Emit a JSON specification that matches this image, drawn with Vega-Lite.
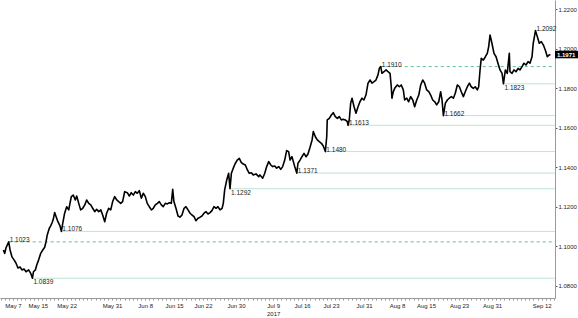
{
  "$schema": "https://vega.github.io/schema/vega-lite/v6.json",
  "width": 555,
  "height": 298,
  "autosize": {"type": "none"},
  "padding": {"left": 0, "top": 0, "right": 23, "bottom": 20},
  "background": "white",
  "view": {"stroke": null},
  "config": {"font": "Liberation Sans"},
  "datasets": {
    "fx": [
      {"t":"2017-05-04T16:00Z","v":1.0982},{"t":"2017-05-05T00:00Z","v":1.0965},{"t":"2017-05-05T07:00Z","v":1.0992},{"t":"2017-05-05T23:00Z","v":1.1023},{"t":"2017-05-06T07:00Z","v":1.0982},{"t":"2017-05-06T18:00Z","v":1.0947},{"t":"2017-05-07T06:00Z","v":1.0932},{"t":"2017-05-07T17:00Z","v":1.0916},{"t":"2017-05-08T05:00Z","v":1.0891},{"t":"2017-05-08T17:00Z","v":1.0896},
      {"t":"2017-05-09T04:00Z","v":1.0881},{"t":"2017-05-09T16:00Z","v":1.0886},{"t":"2017-05-10T04:00Z","v":1.0872},{"t":"2017-05-10T19:00Z","v":1.0881},{"t":"2017-05-11T07:00Z","v":1.0864},{"t":"2017-05-11T17:00Z","v":1.0839},{"t":"2017-05-11T23:00Z","v":1.0872},{"t":"2017-05-12T10:00Z","v":1.0881},{"t":"2017-05-12T18:00Z","v":1.0906},{"t":"2017-05-13T05:00Z","v":1.0932},
      {"t":"2017-05-13T17:00Z","v":1.0965},{"t":"2017-05-14T05:00Z","v":1.0982},{"t":"2017-05-14T16:00Z","v":1.0996},{"t":"2017-05-15T00:00Z","v":1.1024},{"t":"2017-05-15T07:00Z","v":1.1058},{"t":"2017-05-15T19:00Z","v":1.1092},{"t":"2017-05-16T03:00Z","v":1.1104},{"t":"2017-05-16T11:00Z","v":1.1120},{"t":"2017-05-16T18:00Z","v":1.1137},{"t":"2017-05-17T02:00Z","v":1.1171},
      {"t":"2017-05-17T10:00Z","v":1.1151},{"t":"2017-05-17T21:00Z","v":1.1125},{"t":"2017-05-18T09:00Z","v":1.1104},{"t":"2017-05-18T17:00Z","v":1.1076},{"t":"2017-05-19T01:00Z","v":1.1117},{"t":"2017-05-19T12:00Z","v":1.1168},{"t":"2017-05-20T00:00Z","v":1.1201},{"t":"2017-05-20T12:00Z","v":1.1185},{"t":"2017-05-20T19:00Z","v":1.1218},{"t":"2017-05-21T03:00Z","v":1.1252},
      {"t":"2017-05-21T14:00Z","v":1.1260},{"t":"2017-05-22T02:00Z","v":1.1235},{"t":"2017-05-22T10:00Z","v":1.1255},{"t":"2017-05-22T22:00Z","v":1.1218},{"t":"2017-05-23T09:00Z","v":1.1185},{"t":"2017-05-23T21:00Z","v":1.1193},{"t":"2017-05-24T09:00Z","v":1.1210},{"t":"2017-05-24T20:00Z","v":1.1235},{"t":"2017-05-25T08:00Z","v":1.1218},{"t":"2017-05-25T20:00Z","v":1.1210},
      {"t":"2017-05-26T07:00Z","v":1.1193},{"t":"2017-05-26T19:00Z","v":1.1176},{"t":"2017-05-27T06:00Z","v":1.1188},{"t":"2017-05-27T18:00Z","v":1.1176},{"t":"2017-05-28T06:00Z","v":1.1185},{"t":"2017-05-28T17:00Z","v":1.1159},{"t":"2017-05-29T05:00Z","v":1.1125},{"t":"2017-05-29T16:00Z","v":1.1168},{"t":"2017-05-30T04:00Z","v":1.1193},{"t":"2017-05-30T16:00Z","v":1.1185},
      {"t":"2017-05-31T03:00Z","v":1.1227},{"t":"2017-05-31T15:00Z","v":1.1252},{"t":"2017-06-01T03:00Z","v":1.1235},{"t":"2017-06-01T14:00Z","v":1.1227},{"t":"2017-06-02T02:00Z","v":1.1218},{"t":"2017-06-02T13:00Z","v":1.1227},{"t":"2017-06-03T01:00Z","v":1.1277},{"t":"2017-06-03T16:00Z","v":1.1272},{"t":"2017-06-04T04:00Z","v":1.1255},{"t":"2017-06-04T15:00Z","v":1.1272},
      {"t":"2017-06-05T03:00Z","v":1.1260},{"t":"2017-06-05T15:00Z","v":1.1277},{"t":"2017-06-06T02:00Z","v":1.1269},{"t":"2017-06-06T14:00Z","v":1.1282},{"t":"2017-06-07T02:00Z","v":1.1244},{"t":"2017-06-07T13:00Z","v":1.1269},{"t":"2017-06-08T01:00Z","v":1.1252},{"t":"2017-06-08T12:00Z","v":1.1218},{"t":"2017-06-09T00:00Z","v":1.1201},{"t":"2017-06-09T12:00Z","v":1.1185},
      {"t":"2017-06-09T23:00Z","v":1.1193},{"t":"2017-06-10T11:00Z","v":1.1210},{"t":"2017-06-10T23:00Z","v":1.1218},{"t":"2017-06-11T10:00Z","v":1.1227},{"t":"2017-06-11T22:00Z","v":1.1210},{"t":"2017-06-12T09:00Z","v":1.1201},{"t":"2017-06-12T21:00Z","v":1.1218},{"t":"2017-06-13T09:00Z","v":1.1215},{"t":"2017-06-13T20:00Z","v":1.1221},{"t":"2017-06-14T08:00Z","v":1.1218},
      {"t":"2017-06-14T16:00Z","v":1.1289},{"t":"2017-06-14T23:00Z","v":1.1227},{"t":"2017-06-15T11:00Z","v":1.1193},{"t":"2017-06-15T23:00Z","v":1.1154},{"t":"2017-06-16T10:00Z","v":1.1148},{"t":"2017-06-16T22:00Z","v":1.1159},{"t":"2017-06-17T10:00Z","v":1.1193},{"t":"2017-06-17T21:00Z","v":1.1201},{"t":"2017-06-18T09:00Z","v":1.1185},{"t":"2017-06-18T21:00Z","v":1.1168},
      {"t":"2017-06-19T08:00Z","v":1.1159},{"t":"2017-06-19T20:00Z","v":1.1151},{"t":"2017-06-20T07:00Z","v":1.1130},{"t":"2017-06-20T19:00Z","v":1.1143},{"t":"2017-06-21T07:00Z","v":1.1148},{"t":"2017-06-21T18:00Z","v":1.1154},{"t":"2017-06-22T06:00Z","v":1.1168},{"t":"2017-06-22T18:00Z","v":1.1176},{"t":"2017-06-23T05:00Z","v":1.1164},{"t":"2017-06-23T17:00Z","v":1.1171},
      {"t":"2017-06-24T04:00Z","v":1.1181},{"t":"2017-06-24T16:00Z","v":1.1201},{"t":"2017-06-25T04:00Z","v":1.1193},{"t":"2017-06-25T15:00Z","v":1.1201},{"t":"2017-06-26T03:00Z","v":1.1185},{"t":"2017-06-26T15:00Z","v":1.1193},{"t":"2017-06-26T22:00Z","v":1.1218},{"t":"2017-06-27T06:00Z","v":1.1286},{"t":"2017-06-27T18:00Z","v":1.1336},{"t":"2017-06-28T05:00Z","v":1.1370},
      {"t":"2017-06-28T13:00Z","v":1.1292},{"t":"2017-06-28T21:00Z","v":1.1370},{"t":"2017-06-29T08:00Z","v":1.1396},{"t":"2017-06-29T20:00Z","v":1.1421},{"t":"2017-06-30T07:00Z","v":1.1437},{"t":"2017-06-30T19:00Z","v":1.1446},{"t":"2017-07-01T07:00Z","v":1.1424},{"t":"2017-07-01T18:00Z","v":1.1417},{"t":"2017-07-02T06:00Z","v":1.1412},{"t":"2017-07-02T18:00Z","v":1.1387},
      {"t":"2017-07-03T05:00Z","v":1.1370},{"t":"2017-07-03T17:00Z","v":1.1373},{"t":"2017-07-04T04:00Z","v":1.1362},{"t":"2017-07-04T20:00Z","v":1.1367},{"t":"2017-07-05T12:00Z","v":1.1353},{"t":"2017-07-05T19:00Z","v":1.1362},{"t":"2017-07-06T11:00Z","v":1.1345},{"t":"2017-07-06T23:00Z","v":1.1370},{"t":"2017-07-07T10:00Z","v":1.1404},{"t":"2017-07-07T22:00Z","v":1.1429},
      {"t":"2017-07-08T10:00Z","v":1.1412},{"t":"2017-07-08T21:00Z","v":1.1404},{"t":"2017-07-09T09:00Z","v":1.1407},{"t":"2017-07-09T20:00Z","v":1.1396},{"t":"2017-07-10T08:00Z","v":1.1404},{"t":"2017-07-10T20:00Z","v":1.1390},{"t":"2017-07-11T07:00Z","v":1.1404},{"t":"2017-07-11T19:00Z","v":1.1437},{"t":"2017-07-12T06:00Z","v":1.1485},{"t":"2017-07-12T18:00Z","v":1.1479},
      {"t":"2017-07-13T02:00Z","v":1.1437},{"t":"2017-07-13T13:00Z","v":1.1454},{"t":"2017-07-13T21:00Z","v":1.1429},{"t":"2017-07-14T05:00Z","v":1.1404},{"t":"2017-07-14T17:00Z","v":1.1371},{"t":"2017-07-15T00:00Z","v":1.1421},{"t":"2017-07-15T12:00Z","v":1.1437},{"t":"2017-07-15T23:00Z","v":1.1454},{"t":"2017-07-16T11:00Z","v":1.1471},{"t":"2017-07-16T23:00Z","v":1.1454},
      {"t":"2017-07-17T10:00Z","v":1.1468},{"t":"2017-07-17T22:00Z","v":1.1502},{"t":"2017-07-18T10:00Z","v":1.1539},{"t":"2017-07-18T17:00Z","v":1.1581},{"t":"2017-07-19T05:00Z","v":1.1555},{"t":"2017-07-19T16:00Z","v":1.1539},{"t":"2017-07-20T04:00Z","v":1.1530},{"t":"2017-07-20T16:00Z","v":1.1522},{"t":"2017-07-21T03:00Z","v":1.1508},{"t":"2017-07-21T15:00Z","v":1.1480},
      {"t":"2017-07-21T23:00Z","v":1.1555},{"t":"2017-07-22T02:00Z","v":1.1640},{"t":"2017-07-22T14:00Z","v":1.1648},{"t":"2017-07-23T02:00Z","v":1.1665},{"t":"2017-07-23T13:00Z","v":1.1677},{"t":"2017-07-24T01:00Z","v":1.1657},{"t":"2017-07-24T13:00Z","v":1.1648},{"t":"2017-07-25T00:00Z","v":1.1657},{"t":"2017-07-25T12:00Z","v":1.1640},{"t":"2017-07-25T23:00Z","v":1.1643},
      {"t":"2017-07-26T11:00Z","v":1.1640},{"t":"2017-07-26T23:00Z","v":1.1631},{"t":"2017-07-27T03:00Z","v":1.1613},{"t":"2017-07-27T10:00Z","v":1.1640},{"t":"2017-07-27T18:00Z","v":1.1724},{"t":"2017-07-28T02:00Z","v":1.1750},{"t":"2017-07-28T14:00Z","v":1.1707},{"t":"2017-07-29T01:00Z","v":1.1674},{"t":"2017-07-29T13:00Z","v":1.1707},{"t":"2017-07-30T00:00Z","v":1.1732},
      {"t":"2017-07-30T12:00Z","v":1.1750},{"t":"2017-07-30T23:00Z","v":1.1741},{"t":"2017-07-31T11:00Z","v":1.1766},{"t":"2017-07-31T23:00Z","v":1.1826},{"t":"2017-08-01T11:00Z","v":1.1842},{"t":"2017-08-01T22:00Z","v":1.1826},{"t":"2017-08-02T10:00Z","v":1.1834},{"t":"2017-08-02T21:00Z","v":1.1842},{"t":"2017-08-03T09:00Z","v":1.1868},{"t":"2017-08-03T17:00Z","v":1.1902},
      {"t":"2017-08-04T01:00Z","v":1.1910},{"t":"2017-08-04T08:00Z","v":1.1876},{"t":"2017-08-04T20:00Z","v":1.1884},{"t":"2017-08-05T08:00Z","v":1.1893},{"t":"2017-08-05T19:00Z","v":1.1884},{"t":"2017-08-06T07:00Z","v":1.1876},{"t":"2017-08-06T14:00Z","v":1.1808},{"t":"2017-08-06T18:00Z","v":1.1750},{"t":"2017-08-07T02:00Z","v":1.1783},{"t":"2017-08-07T10:00Z","v":1.1800},
      {"t":"2017-08-08T01:00Z","v":1.1817},{"t":"2017-08-08T13:00Z","v":1.1808},{"t":"2017-08-09T00:00Z","v":1.1817},{"t":"2017-08-09T12:00Z","v":1.1792},{"t":"2017-08-09T20:00Z","v":1.1741},{"t":"2017-08-10T08:00Z","v":1.1750},{"t":"2017-08-10T19:00Z","v":1.1732},{"t":"2017-08-11T07:00Z","v":1.1758},{"t":"2017-08-11T19:00Z","v":1.1741},{"t":"2017-08-12T06:00Z","v":1.1707},
      {"t":"2017-08-12T18:00Z","v":1.1741},{"t":"2017-08-13T06:00Z","v":1.1766},{"t":"2017-08-13T17:00Z","v":1.1817},{"t":"2017-08-14T05:00Z","v":1.1842},{"t":"2017-08-14T16:00Z","v":1.1826},{"t":"2017-08-15T04:00Z","v":1.1792},{"t":"2017-08-15T16:00Z","v":1.1783},{"t":"2017-08-16T03:00Z","v":1.1766},{"t":"2017-08-16T15:00Z","v":1.1741},{"t":"2017-08-17T03:00Z","v":1.1732},
      {"t":"2017-08-17T14:00Z","v":1.1716},{"t":"2017-08-18T02:00Z","v":1.1732},{"t":"2017-08-18T13:00Z","v":1.1783},{"t":"2017-08-18T21:00Z","v":1.1741},{"t":"2017-08-19T05:00Z","v":1.1662},{"t":"2017-08-19T16:00Z","v":1.1724},{"t":"2017-08-20T04:00Z","v":1.1741},{"t":"2017-08-20T15:00Z","v":1.1750},{"t":"2017-08-21T03:00Z","v":1.1758},{"t":"2017-08-21T15:00Z","v":1.1750},
      {"t":"2017-08-22T02:00Z","v":1.1775},{"t":"2017-08-22T14:00Z","v":1.1817},{"t":"2017-08-23T02:00Z","v":1.1808},{"t":"2017-08-23T13:00Z","v":1.1783},{"t":"2017-08-24T01:00Z","v":1.1758},{"t":"2017-08-24T12:00Z","v":1.1783},{"t":"2017-08-25T00:00Z","v":1.1808},{"t":"2017-08-25T12:00Z","v":1.1826},{"t":"2017-08-25T23:00Z","v":1.1808},{"t":"2017-08-26T11:00Z","v":1.1800},
      {"t":"2017-08-26T22:00Z","v":1.1808},{"t":"2017-08-27T10:00Z","v":1.1792},{"t":"2017-08-27T18:00Z","v":1.1808},{"t":"2017-08-28T02:00Z","v":1.1893},{"t":"2017-08-28T09:00Z","v":1.1952},{"t":"2017-08-28T21:00Z","v":1.1943},{"t":"2017-08-29T09:00Z","v":1.1960},{"t":"2017-08-29T20:00Z","v":1.1977},{"t":"2017-08-30T04:00Z","v":1.2010},{"t":"2017-08-30T12:00Z","v":1.2070},
      {"t":"2017-08-30T23:00Z","v":1.2028},{"t":"2017-08-31T11:00Z","v":1.1977},{"t":"2017-08-31T23:00Z","v":1.1960},{"t":"2017-09-01T10:00Z","v":1.1927},{"t":"2017-09-01T22:00Z","v":1.1893},{"t":"2017-09-02T10:00Z","v":1.1876},{"t":"2017-09-02T18:00Z","v":1.1823},{"t":"2017-09-03T05:00Z","v":1.1893},{"t":"2017-09-03T16:00Z","v":1.1876},{"t":"2017-09-04T04:00Z","v":1.1977},
      {"t":"2017-09-04T08:00Z","v":1.1884},{"t":"2017-09-04T20:00Z","v":1.1876},{"t":"2017-09-05T07:00Z","v":1.1893},{"t":"2017-09-05T19:00Z","v":1.1884},{"t":"2017-09-06T07:00Z","v":1.1901},{"t":"2017-09-06T18:00Z","v":1.1893},{"t":"2017-09-07T06:00Z","v":1.1910},{"t":"2017-09-07T17:00Z","v":1.1927},{"t":"2017-09-08T05:00Z","v":1.1918},{"t":"2017-09-08T17:00Z","v":1.1935},
      {"t":"2017-09-09T04:00Z","v":1.1927},{"t":"2017-09-09T16:00Z","v":1.1960},{"t":"2017-09-09T23:00Z","v":1.2028},{"t":"2017-09-10T12:00Z","v":1.2092},{"t":"2017-09-10T23:00Z","v":1.2061},{"t":"2017-09-11T10:00Z","v":1.2028},{"t":"2017-09-11T22:00Z","v":1.2036},{"t":"2017-09-12T10:00Z","v":1.2019},{"t":"2017-09-12T21:00Z","v":1.1994},{"t":"2017-09-13T09:00Z","v":1.1960},
      {"t":"2017-09-13T20:00Z","v":1.1969},{"t":"2017-09-14T03:00Z","v":1.1971}
    ],
    "levels": [
      {"start":"2017-05-11T17:00Z","level":1.0839},
      {"start":"2017-05-05T23:00Z","level":1.1023},
      {"start":"2017-05-18T17:00Z","level":1.1076},
      {"start":"2017-06-28T13:00Z","level":1.1292},
      {"start":"2017-07-14T17:00Z","level":1.1371},
      {"start":"2017-07-21T15:00Z","level":1.1480},
      {"start":"2017-07-27T03:00Z","level":1.1613},
      {"start":"2017-08-19T05:00Z","level":1.1662},
      {"start":"2017-09-02T18:00Z","level":1.1823},
      {"start":"2017-08-04T01:00Z","level":1.1910},
      {"start":"2017-09-10T12:00Z","level":1.2092}
    ],
    "last": [{"v":1.1971}]
  },
  "layer": [
    {
      "data": {"name": "fx"},
      "mark": {"type": "line", "color": "#000000", "strokeWidth": 1.6, "strokeJoin": "round", "opacity": 0},
      "encoding": {
        "x": {
          "field": "t", "type": "temporal",
          "scale": {"type": "utc", "domain": [{"year":2017,"month":5,"date":3,"hours":20,"minutes":27,"utc":true},{"year":2017,"month":9,"date":15,"hours":5,"minutes":31,"utc":true}]},
          "axis": {
            "orient": "bottom", "title": null, "grid": false,
            "domainColor": "#9a9a9a", "tickColor": "#9a9a9a", "tickSize": 2,
            "labelFont": "Liberation Sans", "labelFontSize": 6, "labelColor": "#222222",
            "labelPadding": 2, "labelOverlap": false, "labelFlush": false, "labelLineHeight": 8,
            "tickCount": {"interval": "day", "step": 1},
            "labelExpr": "indexof(['05-07','05-13','05-20','05-31','06-08','06-15','06-22','06-30','07-09','07-16','07-23','07-31','08-08','08-15','08-23','08-31','09-12'], utcFormat(datum.value, '%m-%d')) >= 0 ? ['May 7','May 15','May 22','May 31','Jun 8','Jun 15','Jun 22','Jun 30',['Jul 9','2017'],'Jul 16','Jul 23','Jul 31','Aug 8','Aug 15','Aug 23','Aug 31','Sep 12'][indexof(['05-07','05-13','05-20','05-31','06-08','06-15','06-22','06-30','07-09','07-16','07-23','07-31','08-08','08-15','08-23','08-31','09-12'], utcFormat(datum.value, '%m-%d'))] : ''"
          }
        },
        "y": {
          "field": "v", "type": "quantitative",
          "scale": {"domain": [1.0739, 1.2247], "nice": false, "zero": false},
          "axis": {
            "orient": "right", "title": null, "grid": false,
            "domainColor": "#9a9a9a", "tickColor": "#555555", "tickSize": 2,
            "labelFont": "Liberation Sans", "labelFontSize": 6, "labelColor": "#222222",
            "labelPadding": 1, "labelOverlap": false, "labelFlush": false,
            "values": [1.08,1.09,1.10,1.11,1.12,1.13,1.14,1.15,1.16,1.17,1.18,1.19,1.20,1.21,1.22],
            "labelExpr": "round(datum.value*100) % 2 == 0 ? format(datum.value, '.4f') : ''"
          }
        }
      }
    },
    {
      "data": {"name": "levels"},
      "transform": [{"filter": "datum.level != 1.1023 && datum.level != 1.191"}],
      "mark": {"type": "rule", "color": "#bde5cf", "strokeWidth": 1},
      "encoding": {
        "x": {"field": "start", "type": "temporal", "title": null},
        "x2": {"datum": {"year":2017,"month":9,"date":15,"hours":5,"minutes":0,"utc":true}},
        "y": {"field": "level", "type": "quantitative", "title": null}
      }
    },
    {
      "data": {"name": "levels"},
      "transform": [{"filter": "datum.level == 1.1023 || datum.level == 1.191"}],
      "mark": {"type": "rule", "color": "#5fc193", "strokeWidth": 1, "strokeDash": [3, 3]},
      "encoding": {
        "x": {"field": "start", "type": "temporal", "title": null},
        "x2": {"datum": {"year":2017,"month":9,"date":15,"hours":5,"minutes":0,"utc":true}},
        "y": {"field": "level", "type": "quantitative", "title": null}
      }
    },
    {
      "data": {"name": "fx"},
      "mark": {"type": "line", "color": "#000000", "strokeWidth": 1.6, "strokeJoin": "round"},
      "encoding": {
        "x": {"field": "t", "type": "temporal", "title": null},
        "y": {"field": "v", "type": "quantitative", "title": null}
      }
    },
    {
      "data": {"name": "levels"},
      "transform": [{"filter": "datum.level != 1.0839 && datum.level != 1.1292 && datum.level != 1.1823"}],
      "mark": {"type": "text", "align": "left", "baseline": "alphabetic", "dx": 1, "dy": 0, "fontSize": 6.5, "font": "Liberation Sans", "color": "#222222"},
      "encoding": {
        "x": {"field": "start", "type": "temporal", "title": null},
        "y": {"field": "level", "type": "quantitative", "title": null},
        "text": {"field": "level", "type": "quantitative", "format": ".4f"}
      }
    },
    {
      "data": {"name": "levels"},
      "transform": [{"filter": "datum.level == 1.0839 || datum.level == 1.1292 || datum.level == 1.1823"}],
      "mark": {"type": "text", "align": "left", "baseline": "top", "dx": 1, "dy": 1, "fontSize": 6.5, "font": "Liberation Sans", "color": "#222222"},
      "encoding": {
        "x": {"field": "start", "type": "temporal", "title": null},
        "y": {"field": "level", "type": "quantitative", "title": null},
        "text": {"field": "level", "type": "quantitative", "format": ".4f"}
      }
    },
    {
      "data": {"name": "last"},
      "mark": {"type": "point", "shape": "M0,-0.75H4.6V0.75H0Z", "size": 100, "filled": true, "color": "#000000", "opacity": 1, "strokeWidth": 0},
      "encoding": {
        "x": {"datum": {"year":2017,"month":9,"date":15,"hours":5,"minutes":31,"utc":true}, "type": "temporal"},
        "y": {"field": "v", "type": "quantitative", "title": null}
      }
    },
    {
      "data": {"name": "last"},
      "mark": {"type": "text", "align": "left", "baseline": "middle", "dx": 2, "dy": 0.5, "fontSize": 6, "fontWeight": "bold", "font": "Liberation Sans", "color": "#ffffff"},
      "encoding": {
        "x": {"datum": {"year":2017,"month":9,"date":15,"hours":5,"minutes":31,"utc":true}, "type": "temporal"},
        "y": {"field": "v", "type": "quantitative", "title": null},
        "text": {"field": "v", "type": "quantitative", "format": ".4f"}
      }
    }
  ]
}
